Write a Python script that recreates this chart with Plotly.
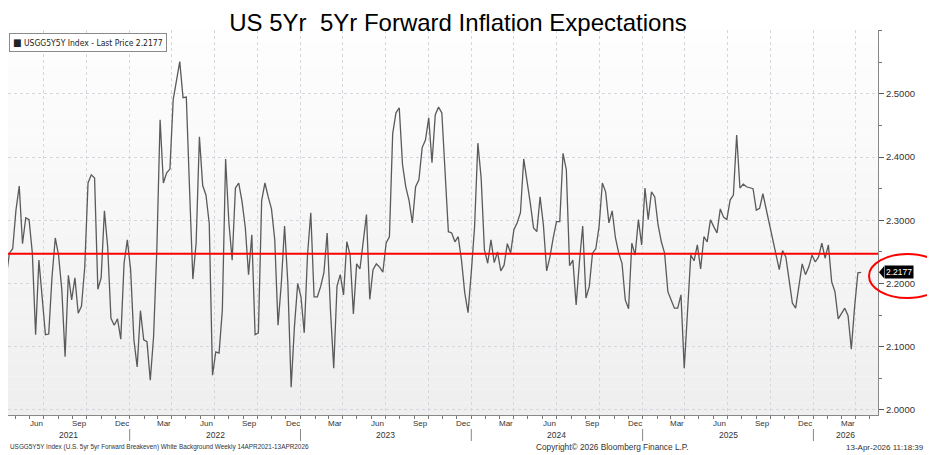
import pandas as pd
import plotly.graph_objects as go

# ---------------- data ----------------
title_text = "US 5Yr\u00a0\u00a05Yr Forward Inflation Expectations"
legend_text = "USGG5Y5Y Index - Last Price 2.2177"
footer_left = "USGG5Y5Y Index (U.S. 5yr 5yr Forward Breakeven) White Background Weekly 14APR2021-13APR2026"
footer_mid = "Copyright\u00a9 2026 Bloomberg Finance L.P."
footer_right = "13-Apr-2026 11:18:39"
last_price = 2.2177
ref_level = 2.247
last_date = "2026-04-13"

values = [
    2.209, 2.248, 2.255, 2.316, 2.354, 2.263, 2.304, 2.301, 2.248, 2.119,
    2.237, 2.179, 2.119, 2.120, 2.210, 2.272, 2.245, 2.190, 2.084, 2.213,
    2.174, 2.209, 2.153, 2.164, 2.226, 2.359, 2.372, 2.367, 2.191, 2.209,
    2.315, 2.258, 2.145, 2.134, 2.144, 2.112, 2.232, 2.269, 2.222, 2.111,
    2.068, 2.157, 2.111, 2.108, 2.047, 2.115, 2.253, 2.459, 2.359, 2.375,
    2.381, 2.491, 2.519, 2.551, 2.494, 2.495, 2.348, 2.207, 2.264, 2.432,
    2.355, 2.340, 2.295, 2.055, 2.092, 2.090, 2.158, 2.397, 2.296, 2.237,
    2.351, 2.359, 2.330, 2.289, 2.214, 2.277, 2.119, 2.122, 2.331, 2.359,
    2.337, 2.318, 2.269, 2.134, 2.200, 2.291, 2.200, 2.036, 2.131, 2.200,
    2.179, 2.122, 2.245, 2.312, 2.179, 2.179, 2.195, 2.217, 2.280, 2.158,
    2.066, 2.196, 2.214, 2.182, 2.266, 2.245, 2.152, 2.231, 2.223, 2.269,
    2.309, 2.175, 2.222, 2.231, 2.226, 2.218, 2.264, 2.274, 2.437, 2.470,
    2.478, 2.388, 2.353, 2.331, 2.296, 2.353, 2.364, 2.415, 2.427, 2.462,
    2.391, 2.467, 2.479, 2.470, 2.364, 2.282, 2.280, 2.266, 2.274, 2.237,
    2.185, 2.154, 2.218, 2.290, 2.422, 2.367, 2.253, 2.232, 2.269, 2.233,
    2.250, 2.220, 2.229, 2.263, 2.248, 2.285, 2.296, 2.312, 2.397, 2.365,
    2.327, 2.288, 2.282, 2.337, 2.293, 2.220, 2.242, 2.272, 2.298, 2.298,
    2.406, 2.380, 2.228, 2.237, 2.166, 2.234, 2.291, 2.177, 2.195, 2.248,
    2.255, 2.290, 2.359, 2.345, 2.296, 2.315, 2.272, 2.248, 2.232, 2.174,
    2.160, 2.264, 2.245, 2.301, 2.261, 2.351, 2.301, 2.345, 2.337, 2.293,
    2.266, 2.248, 2.187, 2.174, 2.161, 2.161, 2.182, 2.066, 2.147, 2.245,
    2.236, 2.261, 2.223, 2.274, 2.266, 2.301, 2.290, 2.280, 2.318, 2.305,
    2.301, 2.332, 2.340, 2.435, 2.351, 2.357, 2.353, 2.351, 2.350, 2.316,
    2.319, 2.342, 2.319, 2.293, 2.272, 2.250, 2.222, 2.252, 2.242, 2.206,
    2.169, 2.161, 2.195, 2.231, 2.214, 2.226, 2.245, 2.234, 2.242, 2.264,
    2.240, 2.261, 2.203, 2.187, 2.144, 2.153, 2.161, 2.149, 2.096, 2.163,
    2.217, 2.2177,
]
dates = pd.date_range(end=last_date, periods=len(values), freq="7D")

y_ticks = [2.0, 2.1, 2.2, 2.3, 2.4, 2.5]
x_range = ["2021-04-16", "2026-05-19"]
y_range = [1.992, 2.601]

month_label_dates = pd.date_range("2021-06-01", "2026-03-01", freq="3MS") + pd.Timedelta(days=14)
month_labels = [d.strftime("%b") for d in month_label_dates]
years = [2021, 2022, 2023, 2024, 2025, 2026]
year_labels = [str(y) for y in years]
quarter_starts = pd.date_range("2021-04-01", "2026-04-01", freq="QS")
month_starts = pd.date_range("2021-05-01", "2026-05-01", freq="MS")

# ---------------- layout geometry ----------------
# the page body has an 8px margin, so the figure starts at page (8, 8)
OFF = 8
W, H = 935 - OFF, 455 - OFF
PLOT_L, PLOT_R, PLOT_T, PLOT_B = 8, 878, 30, 415   # page pixels
ML = PLOT_L - OFF
MR = W - (PLOT_R - OFF)
MT = PLOT_T - OFF
MB = H - (PLOT_B - OFF)
PW, PH = W - ML - MR, H - MT - MB


def px_x(px):
    return (px - OFF - ML) / PW


def px_y(py):
    return (H - MB - (py - OFF)) / PH


def val_y(v):
    return (v - y_range[0]) / (y_range[1] - y_range[0])


fig = go.Figure()
fig.add_trace(go.Scatter(
    x=dates, y=values, mode="lines",
    line=dict(color="#5a5a5a", width=1.3),
    showlegend=False, hoverinfo="x+y",
))

shapes = []
# subtle vertical gradient background of plot area
nb = 30
for k in range(nb):
    t = k / nb
    c = int(255 - 16 * (1 - t))
    shapes.append(dict(type="rect", xref="paper", yref="paper",
                       x0=0, x1=1, y0=t, y1=(k + 1) / nb,
                       fillcolor=f"rgb({c},{c},{c})", line=dict(width=0), layer="below"))

# red reference line
shapes.append(dict(type="line", xref="paper", yref="y", x0=0, x1=1,
                   y0=ref_level, y1=ref_level, line=dict(color="#ff0000", width=2)))

# year separators
for y in years[1:]:
    d = pd.Timestamp(f"{y}-01-01")
    shapes.append(dict(type="line", xref="x", yref="paper", x0=d, x1=d,
                       y0=px_y(429), y1=px_y(441), line=dict(color="#888", width=1)))

# last price tag notch
ly = val_y(last_price)
shapes.append(dict(type="path", xref="paper", yref="paper",
                   path=f"M {px_x(879)},{ly} L {px_x(884)},{ly + 6/PH} L {px_x(884)},{ly - 6/PH} Z",
                   fillcolor="black", line=dict(width=0)))

# red ellipse highlight
shapes.append(dict(type="circle", xref="paper", yref="paper",
                   x0=px_x(869), x1=px_x(946), y0=px_y(298), y1=px_y(254),
                   line=dict(color="#ff0000", width=2)))

annotations = []
for d, t in zip(month_label_dates, month_labels):
    annotations.append(dict(x=d, y=px_y(423), xref="x", yref="paper", text=t,
                            showarrow=False, xanchor="center", yanchor="middle",
                            font=dict(size=8, color="#333", family="Liberation Sans")))

xmin, xmax = pd.Timestamp(x_range[0]), pd.Timestamp(x_range[1])
for y, t in zip(years, year_labels):
    a = max(pd.Timestamp(f"{y}-01-01"), xmin)
    b = min(pd.Timestamp(f"{y + 1}-01-01"), xmax)
    annotations.append(dict(x=a + (b - a) / 2, y=px_y(435), xref="x", yref="paper", text=t,
                            showarrow=False, xanchor="center", yanchor="middle",
                            font=dict(size=8.5, color="#333", family="Liberation Sans")))

annotations += [
    dict(x=px_x(8), y=px_y(447), xref="paper", yref="paper", text=footer_left, showarrow=False,
         xanchor="left", yanchor="middle",
         font=dict(size=6.4, color="#333", family="Liberation Sans")),
    dict(x=px_x(612), y=px_y(447), xref="paper", yref="paper", text=footer_mid, showarrow=False,
         xanchor="center", yanchor="middle",
         font=dict(size=8.3, color="#333", family="Liberation Sans")),
    dict(x=px_x(926), y=px_y(447), xref="paper", yref="paper", text=footer_right, showarrow=False,
         xanchor="right", yanchor="middle",
         font=dict(size=8, color="#333", family="Liberation Sans")),
    # legend box
    dict(x=px_x(9), y=px_y(33), xref="paper", yref="paper",
         text="<span style='font-size:10px'>\u25a0</span> " + legend_text,
         showarrow=False, xanchor="left", yanchor="top",
         bgcolor="white", bordercolor="#8a8a8a", borderwidth=1, borderpad=3,
         font=dict(size=8.5, color="#222", family="DejaVu Sans Condensed, Liberation Sans")),
    # last price tag
    dict(x=px_x(884), y=last_price, xref="paper", yref="y", text=f"{last_price:.4f}",
         showarrow=False, xanchor="left", yanchor="middle",
         bgcolor="black", borderpad=1,
         font=dict(size=8.5, color="white", family="Liberation Sans")),
]

fig.update_layout(
    width=W, height=H,
    margin=dict(l=ML, r=MR, t=MT, b=MB, pad=0),
    paper_bgcolor="white", plot_bgcolor="white",
    title=dict(text=title_text, x=(458 - OFF) / W, xanchor="center",
               y=1 - (22.5 - OFF) / H, yanchor="middle", xref="container", yref="container",
               font=dict(size=24, color="black", family="Liberation Sans")),
    shapes=shapes, annotations=annotations,
    showlegend=False,
    xaxis=dict(
        type="date", range=x_range,
        tickmode="array",
        tickvals=quarter_starts,
        ticktext=[""] * len(quarter_starts),
        ticks="outside", ticklen=3, tickcolor="#777",
        showgrid=True, gridcolor="#d4d8de", griddash="dot", gridwidth=1,
        minor=dict(tickmode="array", tickvals=month_starts,
                   ticks="outside", ticklen=3, tickcolor="#777", showgrid=False),
        showline=True, linecolor="#888", linewidth=1,
        zeroline=False, fixedrange=True,
    ),
    yaxis=dict(
        side="right", range=y_range,
        tickmode="array", tickvals=y_ticks, tickformat=".4f",
        ticks="outside", ticklen=5, tickcolor="#555",
        tickfont=dict(size=9.5, color="#333", family="Liberation Sans"),
        showgrid=True, gridcolor="#d4d8de", griddash="dot", gridwidth=1,
        minor=dict(dtick=0.05, tick0=2.0, ticks="outside", ticklen=3, tickcolor="#777", showgrid=False),
        showline=True, linecolor="#888", linewidth=1,
        zeroline=False, fixedrange=True,
    ),
)

fig.write_html("out.html")
